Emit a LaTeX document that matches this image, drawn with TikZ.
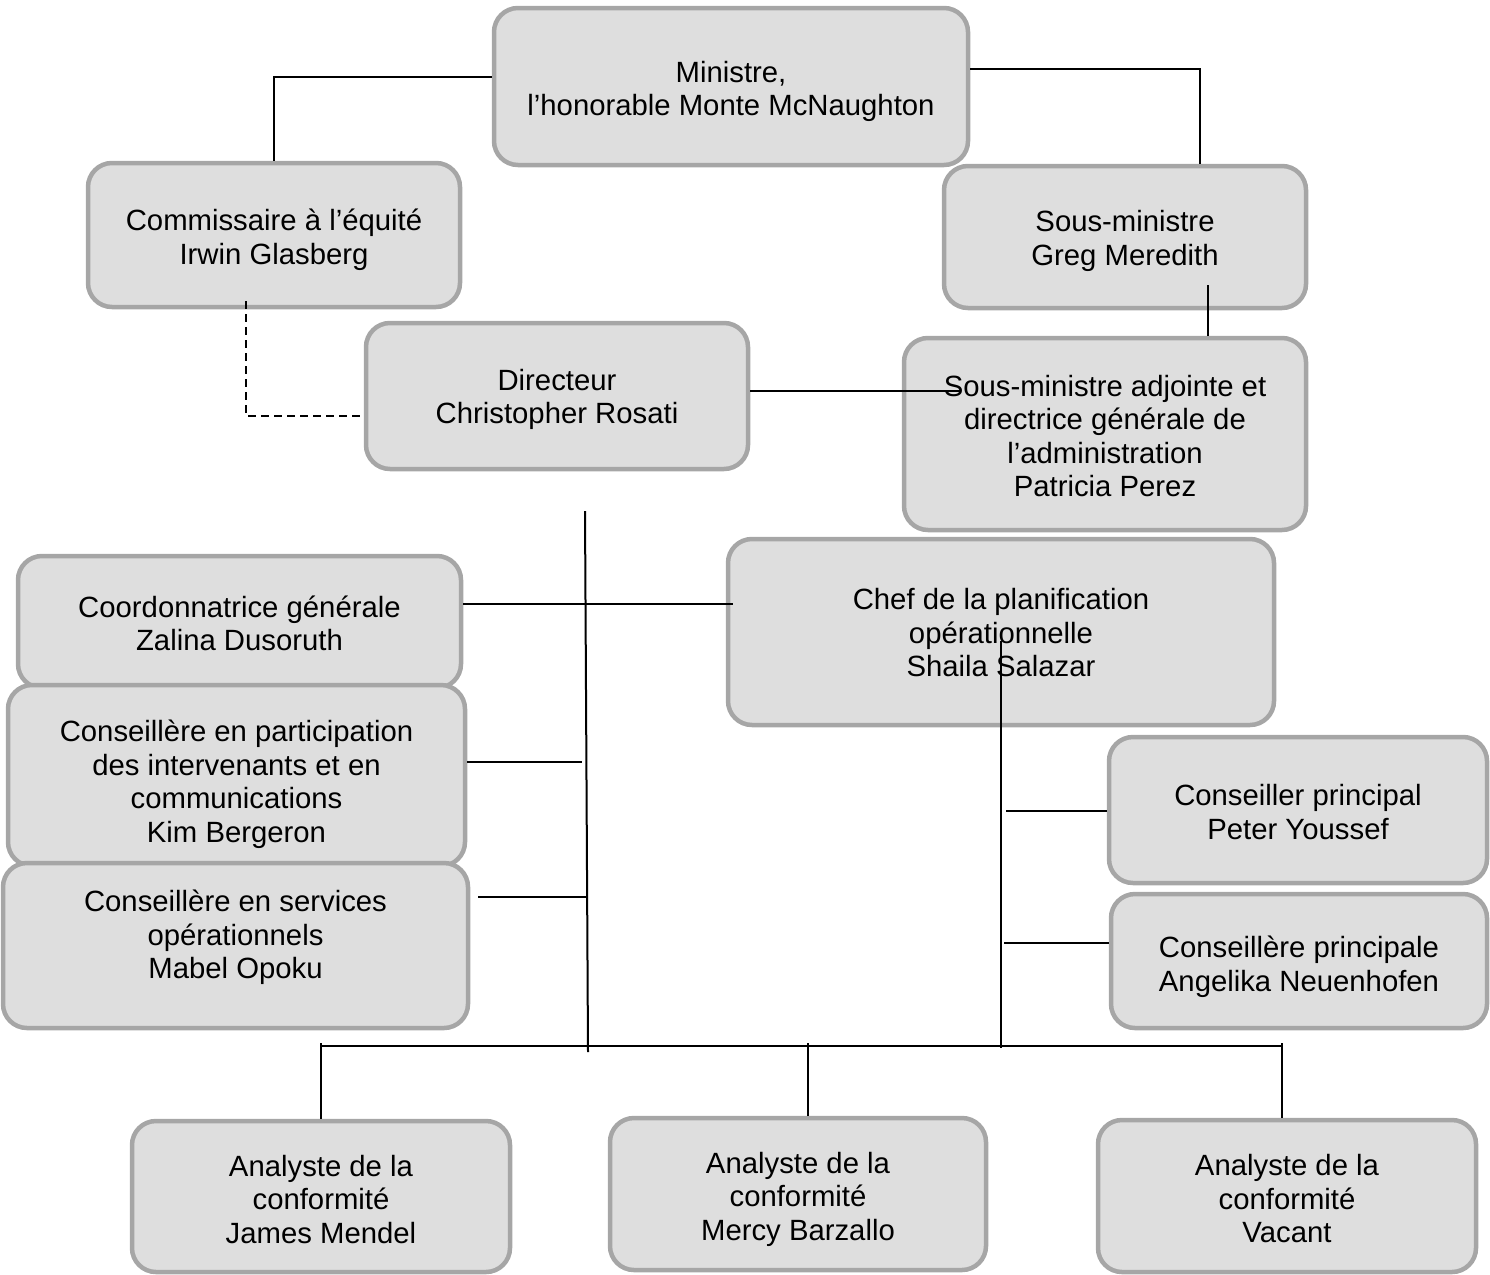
\documentclass[tikz,border=0pt]{standalone}
\usepackage{fontspec}
\setmainfont{Liberation Sans}
\definecolor{boxfill}{HTML}{DEDEDE}
\definecolor{boxline}{HTML}{A6A6A6}
\newcommand{\boxtext}[2][-6pt]{\raisebox{#1}[\height][\depth]{\begin{tabular}{@{}c@{}}#2\end{tabular}}}
\begin{document}
\begin{tikzpicture}[x=1pt,y=-1pt,
  orgbox/.style={draw=boxline, fill=boxfill, line width=4.5pt, rounded corners=24pt,
    inner sep=0pt, align=center, font=\fontsize{29.3}{33.5}\selectfont},
  link/.style={line width=2pt, black}]
\useasboundingbox (0,0) rectangle (1490,1274);

\node[orgbox, minimum width=474pt, minimum height=157pt] (min) at (731,86.5) {\boxtext{Ministre,\\l’honorable Monte McNaughton}};
\node[orgbox, minimum width=372pt, minimum height=144pt] (com) at (274,235) {\boxtext{Commissaire à l’équité\\Irwin Glasberg}};
\node[orgbox, minimum width=362pt, minimum height=142pt] (sm) at (1125,237) {\boxtext[-5pt]{Sous-ministre\\Greg Meredith}};
\node[orgbox, minimum width=382pt, minimum height=146pt] (dir) at (557,396) {\boxtext[-4.5pt]{Directeur\\Christopher Rosati}};
\node[orgbox, minimum width=402pt, minimum height=192pt] (adj) at (1105,434) {\boxtext{Sous-ministre adjointe et\\directrice générale de\\l’administration\\Patricia Perez}};
\node[orgbox, minimum width=443pt, minimum height=132pt] (coord) at (239.5,622) {\boxtext[-5.5pt]{Coordonnatrice générale\\Zalina Dusoruth}};
\node[orgbox, minimum width=546pt, minimum height=186pt] (chef) at (1001,632) {\boxtext[-4.5pt]{Chef de la planification\\opérationnelle\\Shaila Salazar}};
\node[orgbox, minimum width=457pt, minimum height=181pt] (part) at (236.5,775.5) {\boxtext[-10pt]{Conseillère en participation\\des intervenants et en\\communications\\Kim Bergeron}};
\node[orgbox, minimum width=465pt, minimum height=165pt] (serv) at (235.5,945.5) {\boxtext[7pt]{Conseillère en services\\opérationnels\\Mabel Opoku}};
\node[orgbox, minimum width=378pt, minimum height=146pt] (peter) at (1298,810) {\boxtext{Conseiller principal\\Peter Youssef}};
\node[orgbox, minimum width=376pt, minimum height=134pt] (angel) at (1299,961) {\boxtext[-7pt]{Conseillère principale\\Angelika Neuenhofen}};
\node[orgbox, minimum width=378pt, minimum height=151pt] (an1) at (321,1196.5) {\boxtext[-6.5pt]{Analyste de la\\conformité\\James Mendel}};
\node[orgbox, minimum width=376pt, minimum height=152pt] (an2) at (798,1194) {\boxtext{Analyste de la\\conformité\\Mercy Barzallo}};
\node[orgbox, minimum width=378pt, minimum height=152pt] (an3) at (1287,1196) {\boxtext[-6.5pt]{Analyste de la\\conformité\\Vacant}};

% free ends
\coordinate (adjin) at (960,391);
\coordinate (sp1) at (585,511);
\coordinate (sp2) at (588,1052);
\coordinate (j1) at (582,762);
\coordinate (j2) at (588,897);
\coordinate (j3) at (1001,1048);
\coordinate (j4) at (1006,811);
\coordinate (j5) at (1004,943);
\coordinate (busL) at (320,1046);
\coordinate (busR) at (1282,1046);
\coordinate (b1) at (321,1043);
\coordinate (b2) at (808,1043);
\coordinate (b3) at (1282,1043);

\draw[link] ([yshift=9.5pt]min.west) -| (com.north);
\draw[link] ([yshift=17.5pt]min.east) -| ([xshift=75pt]sm.north);
\draw[link, dash pattern=on 8pt off 5pt] ([xshift=-28pt,yshift=8pt]com.south) |- ([yshift=-20pt]dir.west);
\draw[link] ([yshift=5pt]dir.east) -- (adjin);
\draw[link] ([xshift=83pt,yshift=25pt]sm.south) -- ([xshift=103pt]adj.north);
\draw[link] (sp1) -- (sp2);
\draw[link] ([yshift=18pt]coord.east) -- ([yshift=28pt,xshift=7pt]chef.west);
\draw[link] ([yshift=13.5pt]part.east) -- (j1);
\draw[link] ([xshift=8pt,yshift=48.5pt]serv.east) -- (j2);
\draw[link] ([yshift=-9pt]chef.center) -- (j3);
\draw[link] (j4) -- ([yshift=-1pt]peter.west);
\draw[link] (j5) -- ([yshift=18pt]angel.west);
\draw[link] (busL) -- (busR);
\draw[link] (b1) -- (an1.north);
\draw[link] (b2) -- ([xshift=10pt]an2.north);
\draw[link] (b3) -- ([xshift=-5pt]an3.north);
\end{tikzpicture}
\end{document}
